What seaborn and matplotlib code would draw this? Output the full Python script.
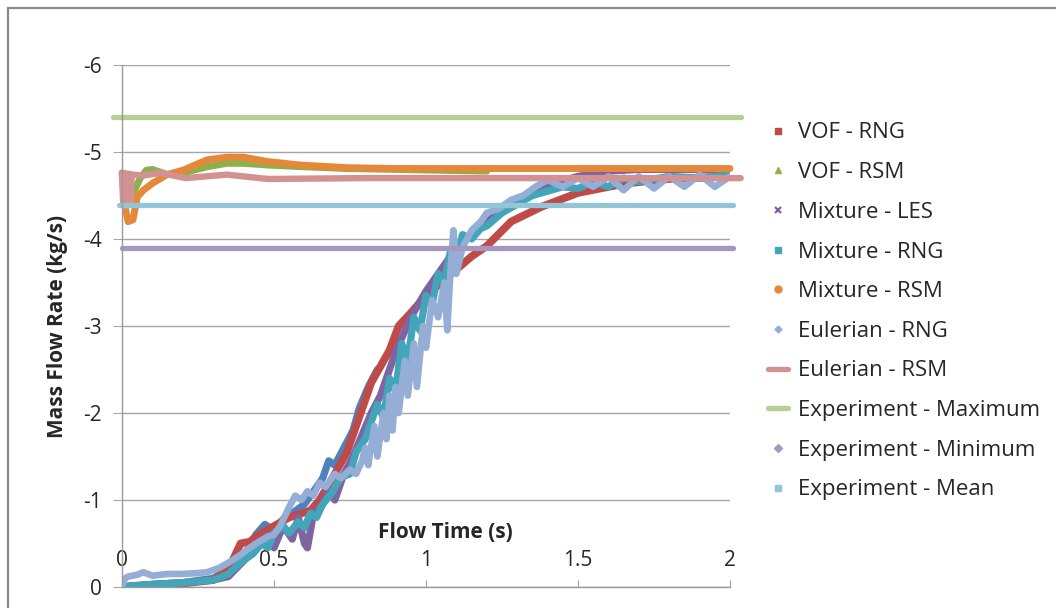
import matplotlib
matplotlib.use("Agg")
import matplotlib.pyplot as plt
from matplotlib.lines import Line2D
from matplotlib.patches import Rectangle
import seaborn as sns

sns.set_theme(style="white")
plt.rcParams["font.family"] = ["Open Sans", "DejaVu Sans"]

# ---------------- data (flow time in s, mass flow rate in kg/s) ----------------
blue_t = [0.0, 0.1, 0.2, 0.3, 0.35, 0.4, 0.44, 0.47, 0.5, 0.53, 0.56, 0.6, 0.63,
          0.66, 0.68, 0.7, 0.73, 0.76, 0.78, 0.81, 0.84]
blue_m = [0.0, -0.03, -0.05, -0.1, -0.2, -0.35, -0.6, -0.72, -0.65, -0.78, -0.85,
          -0.95, -1.1, -1.25, -1.45, -1.4, -1.6, -1.8, -2.05, -2.3, -2.5]

vof_rng_t = [0.0, 0.1, 0.2, 0.3, 0.35, 0.39, 0.42, 0.45, 0.5, 0.55, 0.62, 0.65,
             0.7, 0.74, 0.78, 0.82, 0.88, 0.91, 0.95, 1.0, 1.05, 1.1, 1.15, 1.2,
             1.28, 1.38, 1.5, 1.66, 1.8, 2.0]
vof_rng_m = [0.0, -0.02, -0.04, -0.08, -0.2, -0.5, -0.52, -0.6, -0.7, -0.8, -0.88,
             -1.0, -1.3, -1.55, -1.95, -2.35, -2.72, -3.0, -3.15, -3.35, -3.5,
             -3.65, -3.8, -3.92, -4.2, -4.37, -4.53, -4.64, -4.69, -4.72]

vof_rsm_t = [0.0, 0.02, 0.04, 0.06, 0.08, 0.1, 0.15, 0.2, 0.28, 0.345, 0.4,
             0.48, 0.6, 0.74, 0.9, 1.05, 1.2]
vof_rsm_m = [-4.72, -4.5, -4.55, -4.7, -4.79, -4.8, -4.74, -4.76, -4.83, -4.87,
             -4.87, -4.85, -4.83, -4.81, -4.8, -4.79, -4.78]

mix_les_t = [0.0, 0.1, 0.2, 0.3, 0.35, 0.4, 0.45, 0.48, 0.5, 0.53, 0.56, 0.58,
             0.6, 0.61, 0.63, 0.66, 0.68, 0.7, 0.73, 0.76, 0.79, 0.82, 0.85, 0.9,
             0.95, 1.0, 1.1, 1.2, 1.3, 1.4, 1.5, 1.6, 1.7, 1.8, 1.9, 2.0]
mix_les_m = [0.0, -0.03, -0.05, -0.08, -0.12, -0.3, -0.5, -0.6, -0.45, -0.7, -0.55,
             -0.8, -0.5, -0.45, -0.85, -0.95, -1.1, -1.0, -1.3, -1.5, -1.75, -2.0,
             -2.2, -2.7, -3.1, -3.4, -3.9, -4.2, -4.45, -4.62, -4.72, -4.78, -4.8,
             -4.8, -4.8, -4.8]

mix_rng_t = [0.0, 0.05, 0.1, 0.2, 0.3, 0.35, 0.39, 0.43, 0.46, 0.48, 0.5, 0.53,
             0.55, 0.58, 0.6, 0.62, 0.64, 0.66, 0.69, 0.72, 0.75, 0.77, 0.8, 0.82,
             0.84, 0.86, 0.88, 0.9, 0.92, 0.94, 0.96, 0.98, 1.0, 1.02, 1.04, 1.06,
             1.08, 1.1, 1.12, 1.15, 1.18, 1.2, 1.25, 1.3, 1.35, 1.4, 1.45, 1.5,
             1.55, 1.6, 1.65, 1.7, 1.8, 1.9, 2.0]
mix_rng_m = [0.0, -0.02, -0.03, -0.05, -0.08, -0.15, -0.28, -0.38, -0.5, -0.45,
             -0.62, -0.7, -0.62, -0.75, -0.68, -0.85, -0.8, -0.95, -1.08, -1.26,
             -1.3, -1.55, -1.7, -1.9, -2.1, -1.95, -2.4, -2.25, -2.8, -2.6, -3.1,
             -2.95, -3.35, -3.25, -3.6, -3.5, -3.85, -3.75, -4.05, -4.0, -4.12,
             -4.15, -4.3, -4.4, -4.5, -4.55, -4.6, -4.58, -4.66, -4.6, -4.7, -4.66,
             -4.72, -4.7, -4.74]

mix_rsm_t = [0.0, 0.01, 0.02, 0.036, 0.05, 0.07, 0.1, 0.148, 0.2, 0.28, 0.345,
             0.4, 0.48, 0.585, 0.74, 0.9, 1.2, 1.6, 2.0]
mix_rsm_m = [-4.76, -4.37, -4.2, -4.22, -4.48, -4.56, -4.64, -4.74, -4.79, -4.91,
             -4.94, -4.94, -4.89, -4.85, -4.82, -4.81, -4.81, -4.81, -4.81]

eul_rng_t = [0.0, 0.01, 0.02, 0.05, 0.07, 0.1, 0.15, 0.2, 0.25, 0.28, 0.32, 0.36,
             0.39, 0.42, 0.45, 0.48, 0.5, 0.52, 0.55, 0.57, 0.59, 0.61, 0.63, 0.65,
             0.67, 0.7, 0.72, 0.75, 0.77, 0.79, 0.8, 0.81, 0.83, 0.84, 0.86, 0.87,
             0.88, 0.89, 0.9, 0.91, 0.93, 0.94, 0.96, 0.97, 0.99, 1.0, 1.02, 1.04,
             1.06, 1.07, 1.08, 1.09, 1.1, 1.12, 1.15, 1.18, 1.2, 1.24, 1.28, 1.32,
             1.36, 1.4, 1.45, 1.5, 1.55, 1.6, 1.65, 1.7, 1.75, 1.8, 1.85, 1.9,
             1.95, 2.0]
eul_rng_m = [-0.02, -0.1, -0.12, -0.14, -0.17, -0.13, -0.15, -0.15, -0.16, -0.17,
             -0.22, -0.3, -0.37, -0.45, -0.52, -0.58, -0.6, -0.7, -0.92, -1.05,
             -1.0, -1.1, -1.05, -1.2, -1.15, -1.3, -1.25, -1.35, -1.3, -1.45, -1.6,
             -1.4, -1.85, -1.5, -2.0, -1.7, -2.2, -1.8, -2.3, -2.0, -2.6, -2.2,
             -2.8, -2.3, -3.0, -2.75, -3.3, -3.1, -3.5, -2.95, -3.6, -4.1, -3.6,
             -3.9, -4.1, -4.2, -4.3, -4.35, -4.45, -4.5, -4.6, -4.68, -4.6, -4.7,
             -4.6, -4.72, -4.56, -4.72, -4.58, -4.72, -4.6, -4.74, -4.6, -4.72]

eul_rsm_t = [0.0, 0.004, 0.008, 0.012, 0.016, 0.02, 0.024, 0.028, 0.032, 0.07,
             0.125, 0.21, 0.345, 0.48, 0.8, 1.2, 1.6, 2.035]
eul_rsm_m = [-4.75, -4.4, -4.76, -4.38, -4.75, -4.4, -4.75, -4.45, -4.74, -4.73,
             -4.76, -4.7, -4.74, -4.69, -4.7, -4.7, -4.7, -4.7]

exp_max_t = [-0.03, 2.035]
exp_max_m = [-5.4, -5.4]
exp_min_t = [0.0, 2.01]
exp_min_m = [-3.9, -3.9]
exp_mean_t = [-0.01, 2.01]
exp_mean_m = [-4.39, -4.39]

y_ticks = [0, -1, -2, -3, -4, -5, -6]
y_tick_labels = ["0", "-1", "-2", "-3", "-4", "-5", "-6"]
x_ticks = [0, 0.5, 1, 1.5, 2]
x_tick_labels = ["0", "0.5", "1", "1.5", "2"]

# ---------------- figure ----------------
fig = plt.figure(figsize=(10.56, 6.08), dpi=100)
ax = fig.add_axes([122 / 1056, 1 - 587 / 608, 608 / 1056, 522 / 608])

# chart-area frame
fig.add_artist(Rectangle((8 / 1056, -0.2), 1.2, 1.2 - 8 / 608,
                         transform=fig.transFigure, fill=False,
                         edgecolor="#8A8A8A", linewidth=1.6))

series = [
    (blue_t, blue_m, "#4F81BD", 5.2, False),
    (vof_rng_t, vof_rng_m, "#BE4B48", 5.6, False),
    (vof_rsm_t, vof_rsm_m, "#8DB04A", 5.0, False),
    (mix_les_t, mix_les_m, "#8064A2", 5.2, False),
    (mix_rng_t, mix_rng_m, "#42A5B9", 5.2, False),
    (mix_rsm_t, mix_rsm_m, "#E5883A", 5.0, True),
    (eul_rng_t, eul_rng_m, "#95AED6", 4.8, False),
    (eul_rsm_t, eul_rsm_m, "#D49191", 4.6, True),
    (exp_max_t, exp_max_m, "#B7CE95", 3.8, True),
    (exp_min_t, exp_min_m, "#A598BE", 3.8, True),
    (exp_mean_t, exp_mean_m, "#92C5D6", 3.8, True),
]
for t, m, c, lw, noclip in series:
    sns.lineplot(x=t, y=m, ax=ax, color=c, linewidth=lw, estimator=None,
                 sort=False, legend=False, solid_capstyle="round",
                 solid_joinstyle="round", clip_on=not noclip)

ax.set_xlim(0, 2)
ax.set_ylim(0, -6)
ax.set_yticks(y_ticks)
ax.set_yticklabels(y_tick_labels)
ax.set_xticks(x_ticks)
ax.set_xticklabels(x_tick_labels)

grid_c = "#A6A6A6"
ax.grid(axis="y", color=grid_c, linewidth=1.0)
ax.grid(axis="x", visible=False)
ax.set_axisbelow(True)
for s in ("top", "right"):
    ax.spines[s].set_visible(False)
for s in ("left", "bottom"):
    ax.spines[s].set_color("#9A9A9A")
    ax.spines[s].set_linewidth(1.0)

ax.tick_params(axis="y", direction="out", length=6.5, width=0.8, color=grid_c,
               labelsize=15, labelcolor="#262626", pad=8, left=True)
ax.tick_params(axis="x", direction="in", length=5, width=0.8, color=grid_c,
               labelsize=15, labelcolor="#262626", pad=-27, bottom=True)

ax.set_xlabel("Flow Time (s)", fontsize=15, fontweight="bold", color="#262626")
ax.xaxis.set_label_coords((445 - 122) / 608, (587 - 522) / 522)
ax.set_ylabel("Mass Flow Rate (kg/s)", fontsize=15, fontweight="bold",
              color="#262626")
ax.yaxis.set_label_coords((68 - 122) / 608, 0.5)

# legend
def mk(marker, color, ms=5, mew=1.0):
    return Line2D([], [], linestyle="none", marker=marker, color=color,
                  markersize=ms, markeredgewidth=mew)

handles = [
    mk("s", "#BE4B48"),
    mk("^", "#8DB04A"),
    mk("x", "#8064A2", 4.5, 1.6),
    mk("s", "#42A5B9", 4),
    mk("o", "#E5883A"),
    mk("D", "#95AED6", 3.5),
    Line2D([], [], color="#D49191", linewidth=3.8),
    Line2D([], [], color="#B7CE95", linewidth=3.8),
    mk("D", "#A598BE", 4),
    mk("s", "#92C5D6"),
]
labels = ["VOF - RNG", "VOF - RSM", "Mixture - LES", "Mixture - RNG",
          "Mixture - RSM", "Eulerian - RNG", "Eulerian - RSM",
          "Experiment - Maximum", "Experiment - Minimum", "Experiment - Mean"]
leg = fig.legend(handles, labels, loc="upper left",
                 bbox_to_anchor=(768 / 1056, 1 - 122.5 / 608), frameon=False,
                 fontsize=16, handlelength=0.9, handletextpad=0.45,
                 labelspacing=0.84, borderpad=0, borderaxespad=0)
for txt in leg.get_texts():
    txt.set_color("#262626")

fig.savefig("out.png", dpi=100, facecolor="white")
